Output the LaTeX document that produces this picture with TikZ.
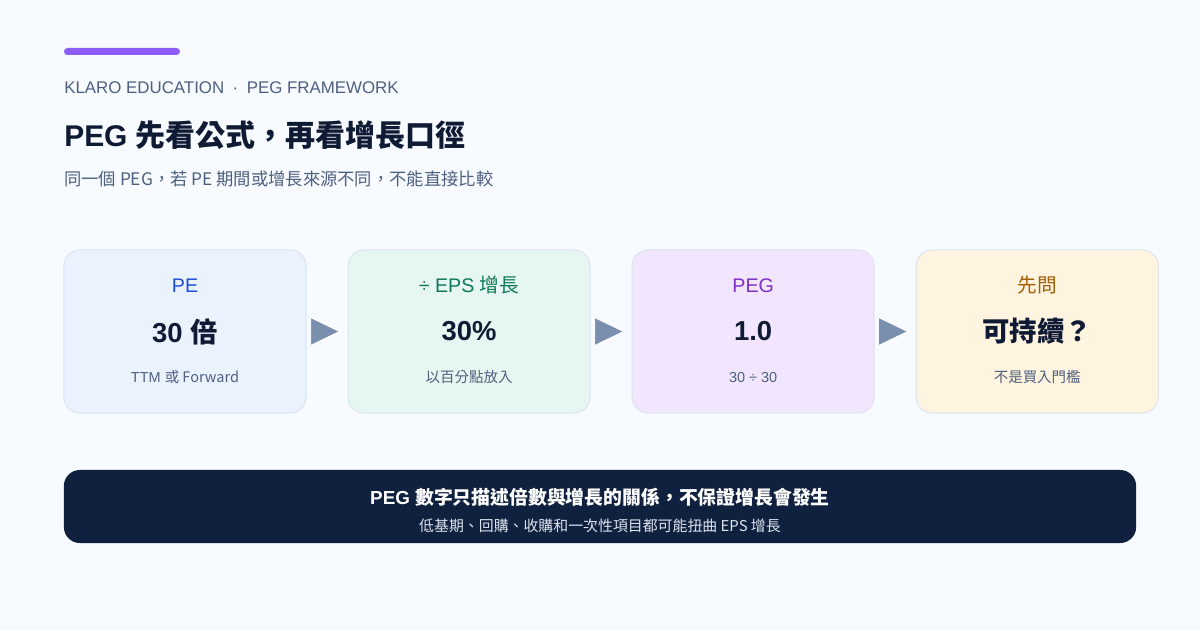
\documentclass[tikz,border=0pt]{standalone}
\usepackage{fontspec}
\setmainfont{Liberation Sans}
\newfontfamily\cjk{Noto Sans CJK TC}
\usepackage{xcolor}
\usetikzlibrary{arrows.meta, positioning}
\definecolor{pagebg}{HTML}{F7FAFE}
\definecolor{accent}{HTML}{8B5CF6}
\definecolor{ink}{HTML}{0F1B35}
\definecolor{slate}{HTML}{4E6080}
\definecolor{cardline}{HTML}{DAE4F1}
\definecolor{pefill}{HTML}{EAF2FE}
\definecolor{petext}{HTML}{1D4ED8}
\definecolor{epsfill}{HTML}{E6F6F1}
\definecolor{epstext}{HTML}{0E7A5A}
\definecolor{pegfill}{HTML}{F1E6FE}
\definecolor{pegtext}{HTML}{7E2FC4}
\definecolor{askfill}{HTML}{FFF4DF}
\definecolor{asktext}{HTML}{A25E04}
\definecolor{flowgrey}{HTML}{7A8EAD}
\definecolor{navybar}{HTML}{10203F}
\definecolor{barsub}{HTML}{DCE3EE}

\begin{document}
\begin{tikzpicture}[x=0.025cm, y=-0.025cm,
    card/.style={rectangle, rounded corners=0.4cm, draw=cardline, line width=0.7pt,
                 minimum width=6.05cm, minimum height=4.075cm, inner sep=0pt, outer sep=0pt},
    cardhead/.style={inner sep=0pt, font=\fontsize{14}{16}\selectfont},
    cardvalue/.style={inner sep=0pt, text=ink, font=\bfseries\fontsize{19.5}{22}\selectfont},
    cardnote/.style={inner sep=0pt, text=slate, font=\fontsize{10.3}{12}\selectfont},
    flow/.style={flowgrey, line width=0.4pt, -{Triangle[length=0.675cm, width=0.65cm]},
                 shorten <=0.15cm, shorten >=0.25cm}]

  % page and margins
  \fill[pagebg] (0,0) rectangle (1200,630);
  \useasboundingbox (0,0) rectangle (1200,630);

  % header
  \fill[accent, rounded corners=0.0875cm] (64,48) rectangle (180,55);
  \node[anchor=west, inner sep=0pt, text=slate, font=\fontsize{12}{14}\selectfont]
    (kicker) at (64,88) {KLARO EDUCATION\hspace{0.5em}·\hspace{0.5em}PEG FRAMEWORK};
  \node[anchor=west, inner sep=0pt, text=ink, font=\bfseries\fontsize{21.3}{25}\selectfont]
    (title) at (64,135) {PEG \cjk{先看公式，再看增長口徑}};
  \node[anchor=west, inner sep=0pt, text=slate, font=\fontsize{12.3}{14}\selectfont]
    (subtitle) at (64,179) {\cjk{同一個} PEG\cjk{，若} PE \cjk{期間或增長來源不同，不能直接比較}};

  % cards
  \node[card, fill=pefill] (pe) at (185,331.5) {};
  \node[card, fill=epsfill, right=1.05cm of pe] (eps) {};
  \node[card, fill=pegfill, right=1.05cm of eps] (peg) {};
  \node[card, fill=askfill, right=1.05cm of peg] (ask) {};

  \node[cardhead, text=petext] (pe-head) at ([yshift=1.15cm]pe.center) {PE};
  \node[cardvalue] (pe-value) at (pe.center) {30 \cjk{倍}};
  \node[cardnote] (pe-note) at ([yshift=-1.14cm]pe.center) {TTM \cjk{或} Forward};

  \node[cardhead, text=epstext] (eps-head) at ([yshift=1.15cm]eps.center) {÷ EPS \cjk{增長}};
  \node[cardvalue] (eps-value) at (eps.center) {30\%};
  \node[cardnote] (eps-note) at ([yshift=-1.14cm]eps.center) {\cjk{以百分點放入}};

  \node[cardhead, text=pegtext] (peg-head) at ([yshift=1.15cm]peg.center) {PEG};
  \node[cardvalue] (peg-value) at (peg.center) {1.0};
  \node[cardnote] (peg-note) at ([yshift=-1.14cm]peg.center) {30 ÷ 30};

  \node[cardhead, text=asktext] (ask-head) at ([yshift=1.15cm]ask.center) {\cjk{先問}};
  \node[cardvalue] (ask-value) at (ask.center) {\cjk{可持續？}};
  \node[cardnote] (ask-note) at ([yshift=-1.14cm]ask.center) {\cjk{不是買入門檻}};

  % flow markers
  \draw[flow] (pe) -- (eps);
  \draw[flow] (eps) -- (peg);
  \draw[flow] (peg) -- (ask);

  % takeaway bar
  \node[rectangle, rounded corners=0.4cm, fill=navybar, minimum width=26.8cm,
        minimum height=1.825cm, inner sep=0pt] (takeaway) at (600,506.5) {};
  \node[inner sep=0pt, text=white, font=\bfseries\fontsize{13.4}{15}\selectfont]
    (takeaway-main) at ([yshift=0.24cm]takeaway.center) {PEG \cjk{數字只描述倍數與增長的關係，不保證增長會發生}};
  \node[inner sep=0pt, text=barsub, font=\fontsize{10.6}{12}\selectfont]
    (takeaway-sub) at ([yshift=-0.49cm]takeaway.center) {\cjk{低基期、回購、收購和一次性項目都可能扭曲} EPS \cjk{增長}};
\end{tikzpicture}
\end{document}
